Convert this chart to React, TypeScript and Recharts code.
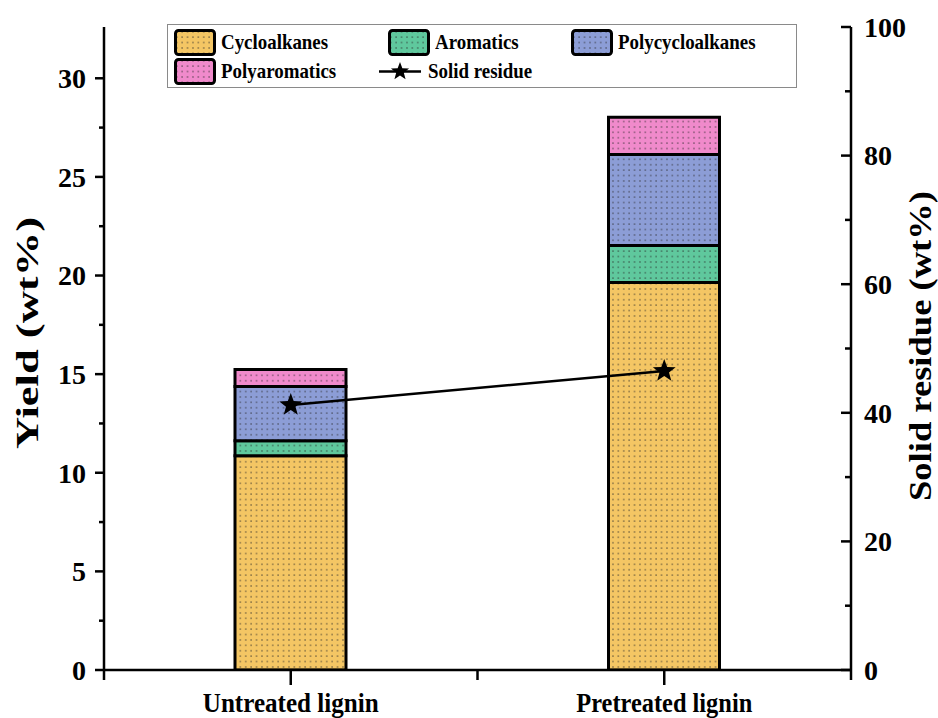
import React from "react";
import {
  ComposedChart,
  Bar,
  Line,
  XAxis,
  YAxis,
} from "recharts";

// data
const categories = ["Untreated lignin", "Pretreated lignin"];
const cycloalkanes = [10.86, 19.65];
const aromatics = [0.76, 1.87];
const polycycloalkanes = [2.75, 4.62];
const polyaromatics = [0.86, 1.88];
const solidResidue = [41.2, 46.5]; // right axis

const yieldTicks = [0, 2.5, 5, 7.5, 10, 12.5, 15, 17.5, 20, 22.5, 25, 27.5, 30];
const residueTicks = [0, 10, 20, 30, 40, 50, 60, 70, 80, 90, 100];

const series = [
  { key: "cycloalkanes", name: "Cycloalkanes", color: "#F4C664" },
  { key: "aromatics", name: "Aromatics", color: "#5FC89D" },
  { key: "polycycloalkanes", name: "Polycycloalkanes", color: "#8C9DD6" },
  { key: "polyaromatics", name: "Polyaromatics", color: "#F08ACB" },
];

const data = categories.map((name, i) => ({
  name,
  cycloalkanes: cycloalkanes[i],
  aromatics: aromatics[i],
  polycycloalkanes: polycycloalkanes[i],
  polyaromatics: polyaromatics[i],
  residue: solidResidue[i],
}));

const FONT = "'Liberation Serif', 'Times New Roman', serif";
const W = 938;
const H = 718;
const MARGIN = { top: 27, right: 27, bottom: 0, left: 24 };
const LEFT_W = 80;
const RIGHT_W = 60;
const PLOT_W = W - MARGIN.left - MARGIN.right - LEFT_W - RIGHT_W;

const starPath = (cx: number, cy: number, R: number, r: number) => {
  let d = "";
  for (let i = 0; i < 10; i++) {
    const rad = i % 2 === 0 ? R : r;
    const a = -Math.PI / 2 + (i * Math.PI) / 5;
    d += (i === 0 ? "M" : "L") + (cx + rad * Math.cos(a)).toFixed(2) + "," + (cy + rad * Math.sin(a)).toFixed(2);
  }
  return d + "Z";
};

const Patterns = ({ prefix }: { prefix: string }) => (
  <defs>
    {series.map((s) => (
      <pattern key={s.key} id={`${prefix}-${s.key}`} width={5.4} height={5.4} patternUnits="userSpaceOnUse">
        <rect width={5.4} height={5.4} fill={s.color} />
        <rect x={2} y={2} width={1.5} height={1.5} fill="rgba(40,40,40,0.55)" />
      </pattern>
    ))}
  </defs>
);

const LeftTick = (props: any) => {
  const { x, y, payload } = props;
  const major = payload.value % 5 === 0;
  return (
    <g>
      <line x1={x - (major ? 9 : 5)} x2={x} y1={y} y2={y} stroke="#000" strokeWidth={2.5} />
      {major && (
        <text x={x - 18} y={y} dy="0.35em" textAnchor="end" fontFamily={FONT} fontWeight="bold" fontSize={28} fill="#000">
          {payload.value}
        </text>
      )}
    </g>
  );
};

const RightTick = (props: any) => {
  const { x, y, payload } = props;
  const major = payload.value % 20 === 0;
  return (
    <g>
      <line x1={x - (major ? 10 : 6)} x2={x} y1={y} y2={y} stroke="#000" strokeWidth={2.5} />
      {major && (
        <text x={x + 13} y={y} dy="0.35em" textAnchor="start" fontFamily={FONT} fontWeight="bold" fontSize={28} fill="#000">
          {payload.value}
        </text>
      )}
    </g>
  );
};

const BottomTick = (props: any) => {
  const { x, y, payload, index } = props;
  const band = PLOT_W / categories.length;
  return (
    <g>
      <line x1={x} x2={x} y1={y} y2={y + 15} stroke="#000" strokeWidth={2.5} />
      <line x1={x - band / 2} x2={x - band / 2} y1={y} y2={y + 10} stroke="#000" strokeWidth={2.5} />
      {index === categories.length - 1 && (
        <line x1={x + band / 2} x2={x + band / 2} y1={y} y2={y + 10} stroke="#000" strokeWidth={2.5} />
      )}
      <text
        x={x}
        y={y + 42}
        textAnchor="middle"
        fontFamily={FONT}
        fontWeight="bold"
        fontSize={27}
        textLength={176}
        lengthAdjust="spacingAndGlyphs"
        fill="#000"
      >
        {payload.value}
      </text>
    </g>
  );
};

const StarDot = (props: any) => {
  const { cx, cy, index } = props;
  return <path key={`star-${index}`} d={starPath(cx, cy, 12, 5)} fill="#000" />;
};

const Swatch = ({ k }: { k: string }) => (
  <svg width={42} height={27} style={{ display: "block" }}>
    <rect x={1.5} y={1.5} width={39} height={24} rx={3} fill={`url(#lg-${k})`} stroke="#000" strokeWidth={3} />
  </svg>
);

const legendText: React.CSSProperties = {
  fontFamily: FONT,
  fontWeight: "bold",
  fontSize: 21,
  color: "#000",
  lineHeight: "27px",
  display: "inline-block",
  transform: "scaleX(0.9)",
  transformOrigin: "left center",
  whiteSpace: "nowrap",
};

const LegendBox = () => {
  const items = [
    { k: "cycloalkanes", x: 6, y: 4 },
    { k: "aromatics", x: 220, y: 4 },
    { k: "polycycloalkanes", x: 403, y: 4 },
    { k: "polyaromatics", x: 6, y: 33 },
  ];
  return (
    <div
      style={{
        position: "absolute",
        left: 167,
        top: 24,
        width: 630,
        height: 64,
        border: "1px solid #8a8a8a",
        background: "#fff",
        boxSizing: "border-box",
      }}
    >
      <svg width={0} height={0} style={{ position: "absolute" }}>
        <Patterns prefix="lg" />
      </svg>
      {items.map((it) => {
        const s = series.find((q) => q.key === it.k)!;
        return (
          <div key={it.k} style={{ position: "absolute", left: it.x, top: it.y, display: "flex", alignItems: "center" }}>
            <Swatch k={it.k} />
            <span style={{ ...legendText, marginLeft: 5 }}>{s.name}</span>
          </div>
        );
      })}
      <div style={{ position: "absolute", left: 210, top: 33, display: "flex", alignItems: "center" }}>
        <svg width={44} height={27} style={{ display: "block" }}>
          <line x1={1} x2={43} y1={13.5} y2={13.5} stroke="#000" strokeWidth={2.5} />
          <path d={starPath(22, 13.5, 9.5, 4)} fill="#000" />
        </svg>
        <span style={{ ...legendText, marginLeft: 6 }}>Solid residue</span>
      </div>
    </div>
  );
};

const axisLine = { stroke: "#000", strokeWidth: 2.5 };

const App = () => {
  return (
    <div style={{ position: "absolute", left: 0, top: 0, width: W, height: H, background: "#fff" }}>
      <ComposedChart width={W} height={H} data={data} margin={MARGIN}>
        <Patterns prefix="bar" />
        <XAxis
          dataKey="name"
          xAxisId="x"
          height={48}
          axisLine={axisLine}
          tickLine={false}
          tickSize={0}
          tickMargin={0}
          tick={<BottomTick />}
          interval={0}
        />
        <YAxis
          yAxisId="left"
          orientation="left"
          width={LEFT_W}
          domain={[0, 32.6]}
          ticks={yieldTicks}
          allowDataOverflow
          axisLine={axisLine}
          tickLine={false}
          tickSize={0}
          tickMargin={0}
          tick={<LeftTick />}
          interval={0}
          label={() => (
            <text
              transform="translate(27,333) rotate(-90)"
              textAnchor="middle"
              dominantBaseline="central"
              fontFamily={FONT}
              fontWeight="bold"
              fontSize={31}
              textLength={232}
              lengthAdjust="spacingAndGlyphs"
              fill="#000"
            >
              Yield (wt%)
            </text>
          )}
        />
        <YAxis
          yAxisId="right"
          orientation="right"
          width={RIGHT_W}
          domain={[0, 100]}
          ticks={residueTicks}
          axisLine={axisLine}
          tickLine={false}
          tickSize={0}
          tickMargin={0}
          tick={<RightTick />}
          interval={0}
          label={() => (
            <text
              transform="translate(920,346) rotate(-90)"
              textAnchor="middle"
              dominantBaseline="central"
              fontFamily={FONT}
              fontWeight="bold"
              fontSize={31}
              textLength={310}
              lengthAdjust="spacingAndGlyphs"
              fill="#000"
            >
              Solid residue (wt%)
            </text>
          )}
        />
        {series.map((s) => (
          <Bar
            key={s.key}
            dataKey={s.key}
            name={s.name}
            stackId="yield"
            xAxisId="x"
            yAxisId="left"
            barSize={111}
            fill={`url(#bar-${s.key})`}
            stroke="#000"
            strokeWidth={3}
            isAnimationActive={false}
          />
        ))}
        <Line
          dataKey="residue"
          name="Solid residue"
          xAxisId="x"
          yAxisId="right"
          stroke="#000"
          strokeWidth={2.5}
          dot={StarDot}
          activeDot={false}
          isAnimationActive={false}
        />
      </ComposedChart>
      <LegendBox />
    </div>
  );
};

export default App;
